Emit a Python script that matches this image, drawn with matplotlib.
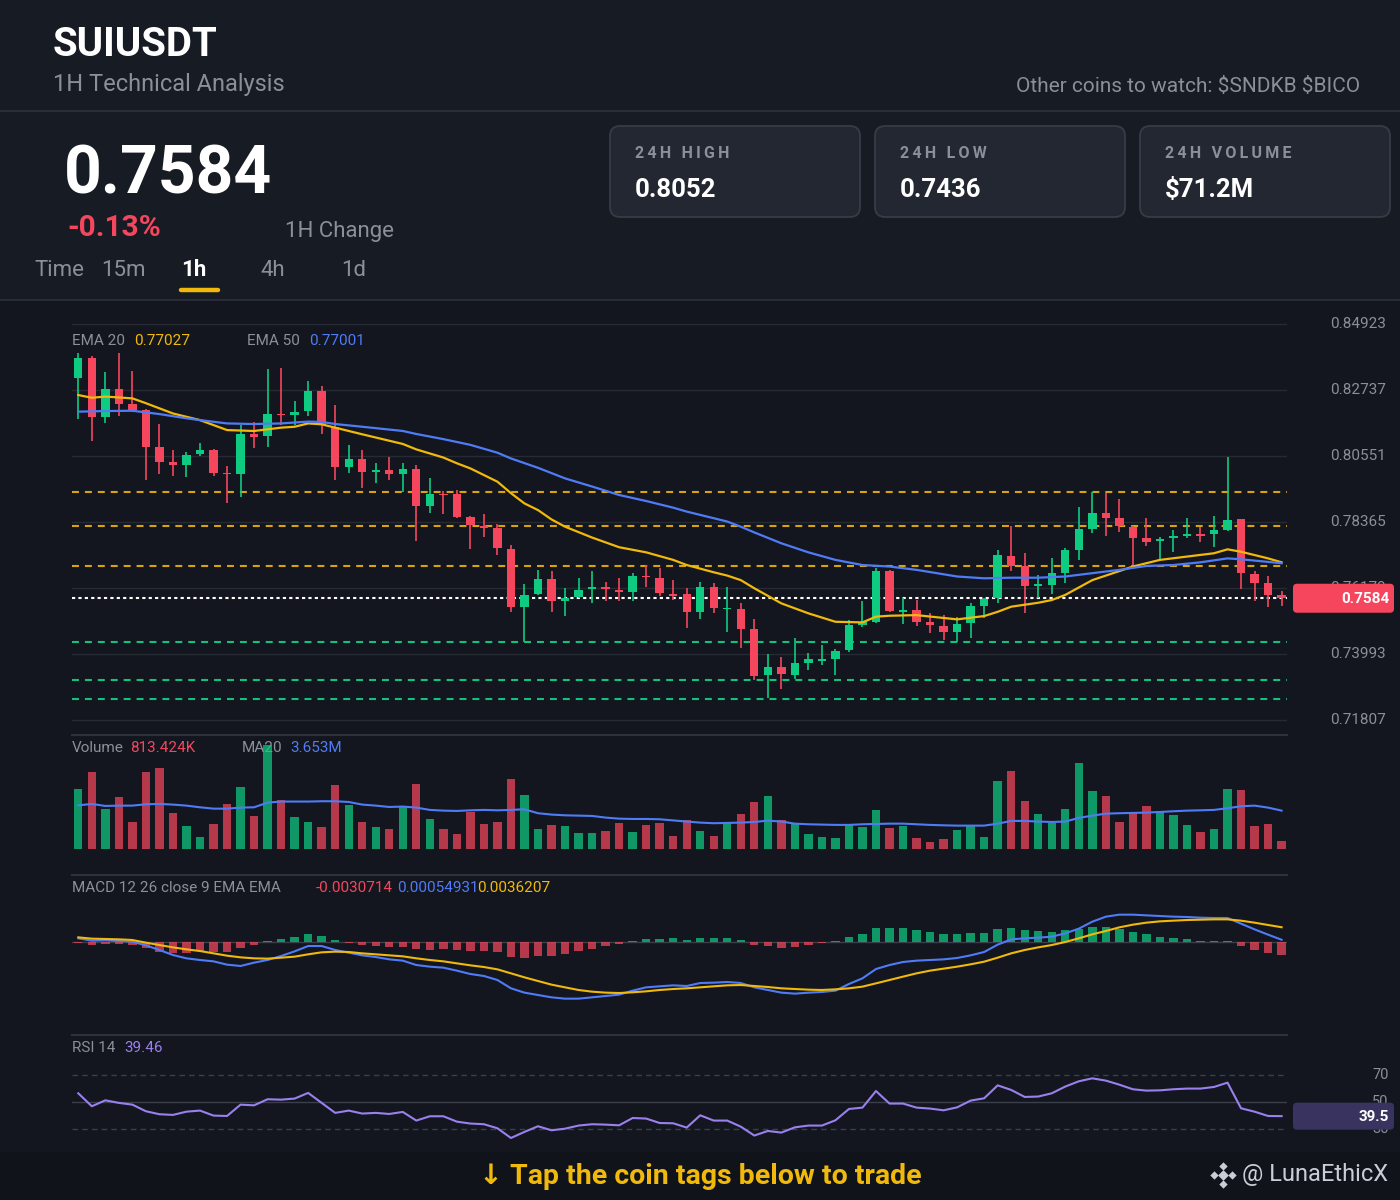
import numpy as np
import matplotlib
matplotlib.use('Agg')
import matplotlib.pyplot as plt
from matplotlib.patches import FancyBboxPatch, Rectangle

W, H = 1400, 1200
plt.rcParams['font.family'] = ['Roboto', 'DejaVu Sans']
plt.rcParams['lines.scale_dashes'] = False

# ---- data ----
symbol = 'SUIUSDT'
last_price = 0.7584
change_pct = '-0.13%'
stats_labels = ['24H HIGH', '24H LOW', '24H VOLUME']
stats_values = ['0.8052', '0.7436', r'\$71.2M']
timeframes = ['15m', '1h', '4h', '1d']
watch_coins = ['SNDKB', 'BICO']

opens = np.array([
    .8312, .8381, .8183, .8276, .8226, .8206, .8084, .8034, .8026, .8062,
    .8075, .8000, .7997, .8127, .8121, .8194, .8192, .8204, .8270, .8152,
    .8018, .8045, .8003, .8009, .7996, .8012, .7891, .7929, .7929, .7853,
    .7823, .7816, .7747, .7554, .7597, .7648, .7576, .7587, .7614, .7622,
    .7610, .7606, .7658, .7650, .7597, .7597, .7538, .7620, .7547, .7549,
    .7481, .7330, .7355, .7330, .7371, .7376, .7383, .7413, .7496, .7506,
    .7674, .7539, .7545, .7505, .7492, .7473, .7501, .7559, .7584, .7725,
    .7691, .7625, .7628, .7667, .7744, .7813, .7867, .7849, .7821, .7784,
    .7775, .7783, .7790, .7798, .7796, .7810, .7845, .7663, .7633, .7595])
highs = np.array([
    .8395, .8387, .8333, .8395, .8337, .8212, .8162, .8074, .8069, .8097,
    .8078, .8021, .8158, .8168, .8342, .8345, .8237, .8304, .8287, .8224,
    .8092, .8075, .8031, .8053, .8031, .8025, .7981, .7938, .7943, .7858,
    .7863, .7829, .7760, .7630, .7678, .7675, .7617, .7650, .7674, .7637,
    .7650, .7667, .7694, .7685, .7644, .7619, .7637, .7633, .7620, .7567,
    .7514, .7399, .7391, .7451, .7404, .7429, .7415, .7512, .7575, .7683,
    .7677, .7584, .7578, .7534, .7528, .7523, .7567, .7584, .7744, .7823,
    .7733, .7661, .7718, .7749, .7885, .7937, .7931, .7913, .7823, .7851,
    .7788, .7810, .7849, .7821, .7856, .8051, .7845, .7674, .7659, .7608])
lows = np.array([
    .8177, .8105, .8166, .8188, .8202, .7975, .7996, .7990, .7987, .8055,
    .7989, .7901, .7918, .8083, .8086, .8158, .8158, .8188, .8127, .7977,
    .7999, .7949, .7967, .7977, .7935, .7775, .7867, .7863, .7851, .7748,
    .7788, .7727, .7537, .7438, .7595, .7540, .7526, .7586, .7569, .7576,
    .7576, .7576, .7622, .7592, .7578, .7487, .7515, .7536, .7471, .7420,
    .7313, .7253, .7282, .7315, .7346, .7363, .7330, .7407, .7488, .7501,
    .7539, .7498, .7493, .7468, .7446, .7438, .7453, .7518, .7569, .7675,
    .7534, .7584, .7598, .7633, .7711, .7799, .7790, .7805, .7689, .7757,
    .7714, .7736, .7783, .7771, .7755, .7808, .7615, .7576, .7554, .7559])
closes = np.array([
    .8379, .8185, .8276, .8227, .8206, .8084, .8034, .8026, .8060, .8074,
    .8000, .7994, .8127, .8119, .8195, .8190, .8202, .8270, .8158, .8019,
    .8045, .8002, .8008, .7996, .8012, .7891, .7929, .7925, .7853, .7826,
    .7818, .7749, .7554, .7595, .7648, .7575, .7586, .7610, .7622, .7614,
    .7605, .7659, .7653, .7600, .7592, .7540, .7620, .7551, .7551, .7482,
    .7328, .7355, .7333, .7368, .7382, .7382, .7410, .7495, .7504, .7674,
    .7543, .7545, .7506, .7494, .7473, .7499, .7558, .7580, .7727, .7691,
    .7625, .7630, .7667, .7744, .7813, .7867, .7849, .7824, .7785, .7771,
    .7781, .7791, .7796, .7791, .7810, .7843, .7667, .7636, .7595, .7584])

# EMA curves read at these candle numbers (1-based)
ema20_at = [1, 2, 3, 5, 6, 8, 10, 12, 14, 16, 17, 18, 19, 20, 22, 25, 26, 28, 29, 30,
            32, 33, 34, 35, 36, 37, 39, 41, 43, 45, 46, 48, 49, 50, 51, 53, 55, 57, 59, 60,
            61, 63, 66, 68, 69, 70, 72, 73, 74, 76, 78, 79, 81, 83, 85, 86, 87, 89, 90]
ema20 = [.8257, .8248, .8252, .8246, .8230, .8196, .8174, .8141, .8138, .8149,
         .8152, .8163, .8160, .8149, .8127, .8095, .8077, .8050, .8031, .8014,
         .7970, .7932, .7898, .7876, .7845, .7821, .7785, .7753, .7736, .7711,
         .7694, .7670, .7659, .7644, .7617, .7567, .7534, .7506, .7504, .7523,
         .7526, .7528, .7514, .7525, .7539, .7556, .7569, .7578, .7595, .7644,
         .7674, .7689, .7711, .7722, .7733, .7746, .7738, .7716, .7703]
ema50_at = [1, 3, 5, 7, 9, 10, 12, 14, 16, 18, 19, 20, 22, 25, 26, 28, 30, 32, 33, 35,
            37, 39, 41, 43, 45, 46, 48, 49, 50, 51, 53, 55, 57, 59, 61, 63, 66, 68, 70, 72,
            74, 76, 78, 80, 82, 84, 86, 87, 90]
ema50 = [.8202, .8204, .8205, .8194, .8180, .8174, .8163, .8161, .8163, .8169,
         .8168, .8161, .8152, .8138, .8128, .8111, .8092, .8066, .8047, .8016,
         .7981, .7954, .7926, .7906, .7884, .7871, .7849, .7838, .7821, .7802,
         .7766, .7736, .7711, .7694, .7689, .7678, .7656, .7650, .7652, .7652,
         .7656, .7667, .7678, .7691, .7694, .7703, .7716, .7713, .7700]
ema20_last = '0.77027'
ema50_last = '0.77001'

resistance = [0.7937, 0.7824, 0.7691]
support = [0.7440, 0.7312, 0.7251]
price_ticks = [0.84923, 0.82737, 0.80551, 0.78365, 0.76179, 0.73993, 0.71807]

volume_m = [5.79, 7.42, 3.91, 5.02, 2.66, 7.42, 7.80, 3.46, 2.28, 1.15,
            2.40, 4.32, 5.95, 3.17, 10.01, 4.77, 3.14, 2.62, 2.14, 6.17,
            4.25, 2.62, 2.14, 1.95, 4.13, 6.27, 2.91, 1.95, 1.47, 3.58,
            2.40, 2.62, 6.72, 5.18, 1.92, 2.30, 2.21, 1.56, 1.56, 1.76,
            2.52, 1.66, 2.33, 2.52, 1.32, 2.78, 1.73, 1.32, 2.50, 3.39,
            4.54, 5.09, 2.78, 2.40, 1.47, 1.22, 1.12, 2.30, 2.14, 3.77,
            2.02, 2.24, 1.06, 0.67, 0.99, 1.89, 2.24, 1.15, 6.56, 7.49,
            4.61, 3.43, 2.56, 3.91, 8.26, 5.57, 5.09, 2.62, 3.52, 4.20,
            3.72, 3.26, 2.30, 1.63, 1.95, 5.76, 5.69, 2.24, 2.40, 0.81]
vol_ma20 = [4.22, 4.35, 4.16, 4.19, 4.19, 4.32, 4.35, 4.29, 4.19, 4.03,
            3.90, 3.90, 4.00, 4.03, 4.48, 4.58, 4.58, 4.58, 4.61, 4.61,
            4.54, 4.29, 4.19, 4.06, 4.10, 4.00, 3.78, 3.71, 3.68, 3.74,
            3.78, 3.74, 3.78, 3.84, 3.46, 3.33, 3.26, 3.23, 3.20, 3.04,
            2.94, 2.91, 2.91, 2.88, 2.77, 2.66, 2.56, 2.50, 2.53, 2.56,
            2.62, 2.75, 2.66, 2.46, 2.40, 2.37, 2.34, 2.34, 2.40, 2.43,
            2.46, 2.46, 2.40, 2.34, 2.30, 2.27, 2.27, 2.27, 2.46, 2.72,
            2.72, 2.66, 2.62, 2.66, 3.01, 3.23, 3.42, 3.46, 3.49, 3.52,
            3.58, 3.65, 3.71, 3.74, 3.78, 3.94, 4.13, 4.19, 4.00, 3.71]

# MACD values in units of 1e-4
macd_hist = np.array([
    -3.2, -6.6, -4.2, -5.6, -7.4, -14.0, -23.8, -27.0, -26.2, -21.3,
    -25.2, -23.8, -14.0, -7.4, 3.2, 8.1, 12.3, 19.6, 15.4, 4.2,
    -3.2, -7.4, -9.8, -12.3, -11.5, -17.9, -18.9, -17.2, -20.3, -22.1,
    -22.1, -24.5, -36.8, -38.5, -34.3, -33.6, -30.1, -22.8, -16.4, -10.5,
    -5.6, 3.2, 7.4, 7.4, 8.6, 5.6, 10.5, 9.8, 9.1, 4.9,
    -6.6, -10.5, -14.0, -11.5, -6.6, -3.2, 2.5, 12.3, 19.6, 33.6,
    33.6, 33.6, 29.4, 24.5, 20.3, 18.9, 21.3, 22.8, 31.9, 34.3,
    30.1, 27.0, 25.2, 28.7, 31.9, 36.8, 36.0, 31.9, 25.2, 18.9,
    13.0, 9.8, 6.6, 3.2, 2.5, 3.2, -9.1, -18.9, -26.2, -31.1]) * 1e-4
macd_line = np.array([
    9.0, 3.3, 4.1, 2.5, 0.8, -8.2, -19.6, -31.9, -40.0, -44.1,
    -47.4, -55.5, -58.8, -50.6, -44.1, -34.3, -22.9, -9.8, -9.8, -19.6,
    -26.1, -32.7, -36.8, -42.5, -45.7, -56.4, -60.4, -62.9, -70.2, -78.4,
    -83.3, -93.1, -113.5, -124.1, -129.9, -135.6, -138.8, -138.8, -135.6, -132.3,
    -129.0, -119.2, -111.1, -108.6, -106.2, -107.8, -100.5, -99.6, -98.0, -100.5,
    -111.1, -117.6, -124.1, -126.6, -124.1, -122.5, -119.2, -102.9, -89.0, -66.2,
    -56.4, -49.0, -45.7, -44.1, -42.5, -39.2, -32.7, -24.5, -6.5, 6.5,
    9.0, 10.6, 13.1, 21.2, 32.7, 49.8, 62.1, 67.0, 67.0, 65.3,
    63.7, 62.1, 61.3, 59.6, 58.8, 58.8, 44.9, 31.0, 18.0, 5.5]) * 1e-4
macd_signal = np.array([
    11.4, 8.2, 7.4, 6.5, 4.9, -1.6, -7.4, -13.1, -18.0, -22.1,
    -27.8, -33.5, -37.6, -40.0, -40.8, -38.4, -35.9, -30.2, -25.3, -23.7,
    -24.5, -27.8, -30.2, -32.7, -35.1, -40.0, -44.1, -47.4, -52.3, -57.2,
    -61.3, -67.0, -76.8, -86.6, -95.6, -104.5, -111.1, -117.6, -121.7, -124.1,
    -125.0, -123.3, -120.9, -117.6, -115.2, -113.5, -111.1, -108.6, -106.2, -105.4,
    -107.8, -110.3, -113.5, -115.2, -116.8, -117.6, -116.0, -113.5, -109.4, -101.3,
    -93.1, -84.9, -76.8, -70.2, -65.3, -60.4, -54.7, -48.2, -38.4, -27.8,
    -19.6, -13.1, -7.4, 0.0, 9.0, 18.8, 27.0, 35.9, 42.5, 47.4,
    50.6, 52.3, 53.9, 54.7, 55.5, 55.5, 52.3, 47.4, 41.7, 36.2]) * 1e-4

rsi = [56.4, 46.8, 51.2, 49.3, 48.0, 43.1, 40.9, 40.4, 42.8, 43.6,
       39.9, 39.6, 48.0, 47.5, 52.0, 51.7, 52.5, 56.7, 49.3, 41.9,
       43.6, 41.4, 41.9, 41.1, 42.6, 36.2, 39.4, 39.4, 35.4, 34.0,
       33.5, 30.5, 23.3, 27.8, 32.0, 29.0, 30.2, 32.5, 33.5, 33.2,
       32.7, 38.1, 37.7, 34.4, 34.2, 31.0, 40.1, 36.2, 36.2, 31.7,
       25.1, 28.5, 27.3, 31.2, 32.5, 32.5, 36.4, 44.8, 45.8, 58.1,
       48.8, 48.8, 45.8, 45.1, 43.8, 46.0, 51.0, 52.7, 62.3, 58.9,
       53.7, 54.0, 56.4, 61.4, 65.3, 67.5, 65.8, 62.8, 59.4, 58.4,
       58.6, 59.4, 59.9, 59.9, 61.1, 64.3, 45.3, 42.8, 39.6, 39.5]
rsi_last = 39.46

# ---- colours ----
BG = '#171b23'
CHART_BG = '#13161e'
GREEN = '#0ecb81'
RED = '#f6465d'
YELLOW = '#f0b90b'
BLUE = '#4f7cf6'
PURPLE = '#9a80ee'
GREY = '#8a8f99'
GRID = '#252a33'
SEP = '#2c313b'

fig = plt.figure(figsize=(14, 12), dpi=100)
fig.patch.set_facecolor(BG)

bg = fig.add_axes([0, 0, 1, 1])
bg.set_xlim(0, W)
bg.set_ylim(H, 0)
bg.axis('off')
bg.add_patch(Rectangle((0, 300), W, 852, color=CHART_BG, zorder=0))
bg.add_patch(Rectangle((0, 1152), W, 48, color='#10131a', zorder=0))
bg.plot([0, W], [111, 111], color=SEP, lw=1.2)
bg.plot([0, W], [300, 300], color=SEP, lw=1.2)
for yy in (735, 875, 1035):
    bg.plot([72, 1287], [yy, yy], color=SEP, lw=1.5)


def txt(x, y, s, size, color, weight='normal', ha='left', ax=None):
    (ax or bg).text(x, y, s, fontsize=size, color=color, fontweight=weight,
                    ha=ha, va='center')


# header
txt(53, 45, symbol, 29, 'white', 'bold')
txt(53, 85, '1H Technical Analysis', 17, GREY)
watch = 'Other coins to watch: ' + ' '.join(r'\$' + c for c in watch_coins)
txt(1360, 86, watch, 15, GREY, ha='right')
txt(64, 175, f'{last_price:.4f}', 47.5, 'white', 'bold')
txt(67, 228, change_pct, 21.5, RED, 'bold')
txt(285, 231, '1H Change', 16, GREY)
txt(34, 270, 'Time', 16, GREY)
for lab, xx in zip(timeframes, [101, 181, 260, 341]):
    if lab == '1h':
        txt(xx, 270, lab, 16, 'white', 'bold')
    else:
        txt(xx, 270, lab, 16, GREY)
bg.plot([181, 218], [290, 290], color=YELLOW, lw=3.2, solid_capstyle='round')

for i, (lab, val) in enumerate(zip(stats_labels, stats_values)):
    x0 = 610 + i * 265
    bg.add_patch(FancyBboxPatch((x0, 126), 250, 91,
                                boxstyle='round,pad=0,rounding_size=10',
                                fc='#222732', ec='#373c47', lw=1.3))
    txt(x0 + 25, 154, '\u2009'.join(lab), 11.5, GREY, 'bold')
    txt(x0 + 25, 190, val, 18.5, 'white', 'bold')


def panel(y0, y1):
    ax = fig.add_axes([72 / W, 1 - y1 / H, (1287 - 72) / W, (y1 - y0) / H])
    ax.set_facecolor('none')
    ax.axis('off')
    ax.set_xlim(-0.466, 89.4)
    return ax


idx = np.arange(len(closes))
up = closes >= opens
cols = np.where(up, GREEN, RED)

# main price panel
ax = panel(310, 735)
ax.set_ylim(0.71310, 0.85387)
for p in price_ticks:
    ax.axhline(p, color=GRID, lw=1, zorder=0)
    ax.text(1.0354, p, f'{p:.5f}', transform=ax.get_yaxis_transform(),
            fontsize=11, color=GREY, va='center', ha='left')
for p in resistance:
    ax.axhline(p, color='#d9a40b', lw=1.5, dashes=(5, 4.3), zorder=1)
for p in support:
    ax.axhline(p, color='#12c27c', lw=1.5, dashes=(5, 4.3), zorder=1)
ax.axhline(last_price, color='white', lw=1.5, dashes=(2.3, 2.3), zorder=1)
ax.vlines(idx, lows, highs, colors=cols, lw=1.2, zorder=3)
ax.bar(idx, np.maximum(np.abs(closes - opens), 0.0004), width=0.62,
       bottom=np.minimum(opens, closes), color=cols, zorder=3)
ax.plot(np.array(ema20_at) - 1, ema20, color=YELLOW, lw=1.6, zorder=4)
ax.plot(np.array(ema50_at) - 1, ema50, color=BLUE, lw=1.6, zorder=4)

txt(72, 341, 'EMA 20', 11, GREY)
txt(134, 341, ema20_last, 11, YELLOW)
txt(247, 341, 'EMA 50', 11, GREY)
txt(309, 341, ema50_last, 11, BLUE)

# volume panel
axv = panel(735, 875)
axv.set_ylim(-2.47, 10.97)
axv.bar(idx, volume_m, width=0.62, color=cols, alpha=0.72)
axv.plot(idx, vol_ma20, color=BLUE, lw=1.5)
txt(72, 748, 'Volume', 11, GREY)
txt(130, 748, '813.424K', 11, RED)
txt(242, 748, 'MA20', 11, GREY)
txt(290, 748, '3.653M', 11, BLUE)

# MACD panel
axm = panel(875, 1035)
axm.set_ylim(-0.02279, 0.01642)
axm.axhline(0, color='#3a3f4a', lw=1, zorder=0)
hcols = np.where(macd_hist >= 0, GREEN, RED)
axm.bar(idx, macd_hist, width=0.62, color=hcols, alpha=0.72)
axm.plot(idx, macd_line, color=BLUE, lw=1.5)
axm.plot(idx, macd_signal, color=YELLOW, lw=1.5)
txt(72, 888, 'MACD 12 26 close 9 EMA EMA', 11, GREY)
txt(316, 888, '-0.0030714', 11, RED)
txt(397, 888, '0.00054931', 11, BLUE)
txt(477, 888, '0.0036207', 11, YELLOW)

# RSI panel
axr = panel(1035, 1150)
axr.set_ylim(14.4, 99.6)
axr.axhline(70, color='#3a3f4a', lw=1, dashes=(4, 3))
axr.axhline(30, color='#3a3f4a', lw=1, dashes=(4, 3))
axr.axhline(50, color='#3a3f4a', lw=1)
axr.plot(idx, rsi, color=PURPLE, lw=1.5)
for lv in (70, 50, 30):
    axr.text(1.0835, lv, str(lv), transform=axr.get_yaxis_transform(),
             fontsize=10.5, color=GREY, va='center', ha='right')
txt(72, 1048, 'RSI 14', 11, GREY)
txt(124, 1048, f'{rsi_last:.2f}', 11, PURPLE)

# footer
bg.text(700, 1176, '\u2193 Tap the coin tags below to trade', fontsize=20.5,
        color=YELLOW, fontweight='bold', ha='center', va='center',
        family=['Roboto', 'DejaVu Sans'])
txt(1242, 1174, '@ LunaEthicX', 17, '#c9cdd6')
for dx, dy, s in [(0, 0, 30), (0, -9, 18), (0, 9, 18), (-9, 0, 18), (9, 0, 18)]:
    bg.scatter(1223 + dx, 1175 + dy, marker='D', s=s, color='#c9cdd6', lw=0)

# overlay: price tags
top = fig.add_axes([0, 0, 1, 1])
top.set_xlim(0, W)
top.set_ylim(H, 0)
top.axis('off')
top.patch.set_alpha(0)


def ypix(a, v):
    return H - a.transData.transform((0, v))[1]


yp = ypix(ax, last_price)
top.add_patch(FancyBboxPatch((1293, yp - 14.5), 101, 29,
                             boxstyle='round,pad=0,rounding_size=4', fc=RED, ec='none'))
txt(1389, yp + 1, f'{last_price:.4f}', 11, 'white', 'bold', ha='right', ax=top)
yr = ypix(axr, rsi_last)
top.add_patch(FancyBboxPatch((1293, yr - 13.5), 101, 27,
                             boxstyle='round,pad=0,rounding_size=4', fc='#39345f', ec='none'))
txt(1389, yr + 1, f'{rsi_last:.1f}', 11, 'white', 'bold', ha='right', ax=top)

fig.savefig('out.png', dpi=100, facecolor=fig.get_facecolor())
